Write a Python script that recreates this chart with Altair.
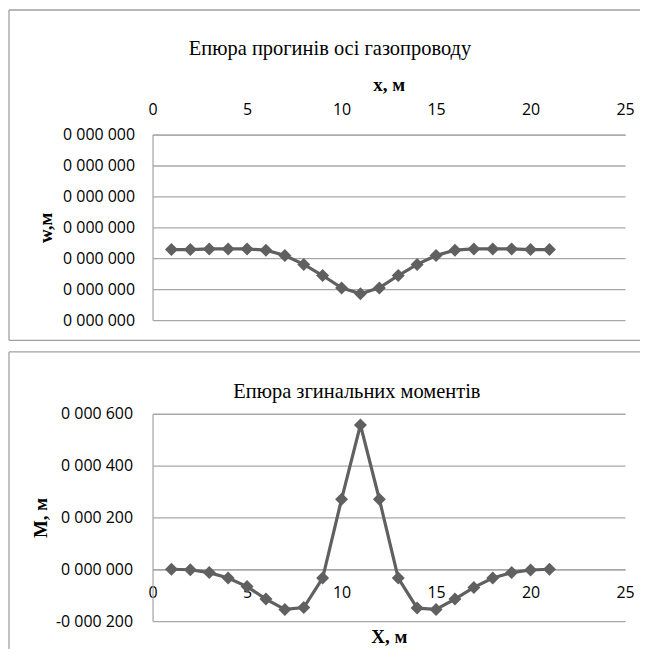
import altair as alt
import pandas as pd

# ---- data ----
x_vals = list(range(1, 22))
w_vals = [-0.0372, -0.0372, -0.0370, -0.0370, -0.0370, -0.0374, -0.0391, -0.0420,
          -0.0456, -0.0496, -0.0515, -0.0496, -0.0456, -0.0420, -0.0391, -0.0374,
          -0.0370, -0.0370, -0.0370, -0.0372, -0.0372]
m_vals = [0, -2, -13, -34, -67, -115, -155, -148, -34, 270, 557, 270, -34, -150,
          -155, -115, -70, -34, -13, -3, 0]

x_ticks = [0, 5, 10, 15, 20, 25]
w_ticks = [0, -0.01, -0.02, -0.03, -0.04, -0.05, -0.06]
m_ticks = [-200, 0, 200, 400, 600]

title_top = "Епюра прогинів осі газопроводу"
title_bottom = "Епюра згинальних моментів"

df_w = pd.DataFrame({"x": x_vals, "w": w_vals})
df_m = pd.DataFrame({"x": x_vals, "m": m_vals})

# ---- styling ----
W = 474
H1 = 186
H2 = 208
line_c = "#606060"
grid_c = "#a8a8a8"
border_c = "#a0a0a0"
one = alt.Data(values=[{"k": 1}])

# ---------------- top chart ----------------
x1 = alt.X("x:Q", scale=alt.Scale(domain=[0, 25], nice=False, zero=False),
           axis=alt.Axis(orient="top", values=x_ticks, title="x, м", grid=False,
                         labelFlush=False,
                         labelPadding=25, labelBaseline="middle",
                         titleX=W / 2, titleY=-50, titleBaseline="middle"))
y1 = alt.Y("w:Q", scale=alt.Scale(domain=[-0.06, 0], nice=False, zero=False),
           axis=alt.Axis(values=w_ticks, title="w,м", labelExpr="'0 000 000'",
                         labelPadding=18, titleX=-107, titleY=H1 / 2, titleAngle=270,
                         titleBaseline="middle", titleAlign="center"))

base1 = alt.Chart(df_w)
line1 = base1.mark_line(color=line_c, strokeWidth=3.2).encode(x=x1, y=y1)
pts1 = base1.mark_point(shape="diamond", filled=True, size=170, color=line_c,
                        opacity=1).encode(x=x1, y=y1)

box1 = alt.Chart(one).mark_rule(color=border_c, strokeWidth=1.3)
b1_top = box1.encode(x=alt.value(-144), x2=alt.value(489), y=alt.value(-125))
b1_left = box1.encode(x=alt.value(-144), y=alt.value(-125), y2=alt.value(206.5))
b1_bot = box1.encode(x=alt.value(-144), x2=alt.value(489), y=alt.value(206.5))
t1 = alt.Chart(one).mark_text(text=title_top, font="Liberation Serif", fontSize=20.5,
                              align="center", baseline="middle",
                              color="#000").encode(x=alt.value(178), y=alt.value(-86))

top = alt.layer(b1_top, b1_left, b1_bot, t1, line1, pts1).properties(width=W, height=H1)

# ---------------- bottom chart ----------------
m_min, m_max = -200, 600
x_off = -(0 - m_min) / (m_max - m_min) * H2

x2 = alt.X("x:Q", scale=alt.Scale(domain=[0, 25], nice=False, zero=False),
           axis=alt.Axis(orient="bottom", values=x_ticks, title="X, м", grid=False,
                         labelFlush=False,
                         offset=x_off, labelPadding=23, labelBaseline="middle",
                         titleX=W / 2, titleY=67, titleBaseline="middle"))
y2 = alt.Y("m:Q", scale=alt.Scale(domain=[m_min, m_max], nice=False, zero=False),
           axis=alt.Axis(values=m_ticks, title="M, м",
                         labelExpr="(datum.value < 0 ? '-' : '') + '0 000 ' + pad(toString(abs(datum.value)), 3, '0', 'left')",
                         labelPadding=20, titleX=-112, titleY=H2 / 2, titleAngle=270,
                         titleBaseline="middle", titleAlign="center"))

base2 = alt.Chart(df_m)
line2 = base2.mark_line(color=line_c, strokeWidth=3.2).encode(x=x2, y=y2)
pts2 = base2.mark_point(shape="diamond", filled=True, size=170, color=line_c,
                        opacity=1).encode(x=x2, y=y2)

box2 = alt.Chart(one).mark_rule(color=border_c, strokeWidth=1.3)
b2_top = box2.encode(x=alt.value(-144), x2=alt.value(489), y=alt.value(-62))
b2_left = box2.encode(x=alt.value(-144), y=alt.value(-62), y2=alt.value(236))
t2 = alt.Chart(one).mark_text(text=title_bottom, font="Liberation Serif", fontSize=20.5,
                              align="center", baseline="middle",
                              color="#000").encode(x=alt.value(205), y=alt.value(-22))

bottom = alt.layer(b2_top, b2_left, t2, line2, pts2).properties(width=W, height=H2)

chart = alt.vconcat(top, bottom, spacing=9, padding=0).configure_view(
    stroke=None
).configure_axis(
    labelFont="Open Sans", labelFontSize=16, labelColor="#000",
    titleFont="Liberation Serif", titleFontSize=19, titleFontWeight="bold",
    titleColor="#000", gridColor=grid_c, gridWidth=1.3, domainColor=grid_c,
    domainWidth=1.3, ticks=False, tickSize=0
)

chart.save("out.html", embed_options={"renderer": "svg", "actions": False})
